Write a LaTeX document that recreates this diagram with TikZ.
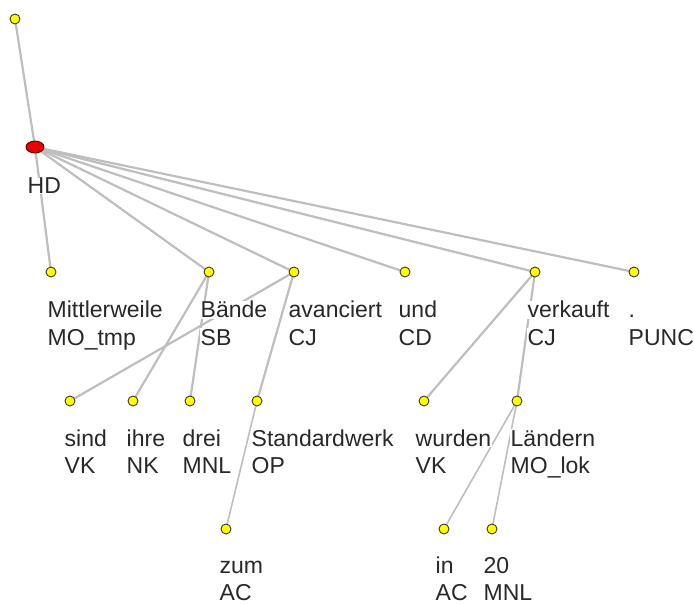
\documentclass[tikz,border=0pt]{standalone}
\usepackage{fontspec}
\setmainfont{Liberation Sans}
\usetikzlibrary{shapes.geometric}
\pgfdeclarelayer{edgelayer}
\pgfdeclarelayer{labellayer}
\pgfsetlayers{edgelayer,labellayer,main}
\definecolor{edgegray}{RGB}{190,190,190}
\definecolor{dotyellow}{RGB}{255,255,0}
\definecolor{dotrim}{RGB}{60,60,20}
\definecolor{headred}{RGB}{235,0,0}
\definecolor{txt}{RGB}{40,40,40}
\begin{document}
\begin{tikzpicture}[x=1pt,y=-1pt,
  dot/.style={circle,draw=dotrim,fill=dotyellow,line width=0.9pt,minimum size=10pt,inner sep=0pt},
  headdot/.style={ellipse,draw=black!60!red,fill=headred,line width=0.9pt,minimum width=18pt,minimum height=12pt,inner sep=0pt},
  edge/.style={draw=edgegray,line width=2.2pt},
  thinedge/.style={draw=edgegray,line width=1.6pt},
  lbl/.style={anchor=base west,fill=white,inner sep=0.5pt,text=txt,font=\fontsize{23}{28}\selectfont}]
\useasboundingbox (0,0) rectangle (694,604);
\newcommand{\wordtag}[5]{%
  \node[lbl] (#1w) at (#2,#3) {#4};
  \node[lbl] (#1t) at (#2,#3+27) {#5};}
% dots
\node[dot] (r) at (15,19) {};
\node[headdot] (h) at (35,147) {};
\node[dot] (n1) at (51,272) {};
\node[dot] (n2) at (209,272) {};
\node[dot] (n3) at (294,272) {};
\node[dot] (n4) at (405,272) {};
\node[dot] (n5) at (535,272) {};
\node[dot] (n6) at (634,272) {};
\node[dot] (m1) at (70,401) {};
\node[dot] (m2) at (133,401) {};
\node[dot] (m3) at (190,401) {};
\node[dot] (m4) at (257,401) {};
\node[dot] (m5) at (424,401) {};
\node[dot] (m6) at (517,401) {};
\node[dot] (k1) at (226,529) {};
\node[dot] (k2) at (444,529) {};
\node[dot] (k3) at (492,529) {};
% labels
\begin{pgfonlayer}{labellayer}
\node[lbl] (hd) at (27,194) {HD};
\wordtag{l1}{47}{318}{Mittlerweile}{MO\_tmp}
\wordtag{l2}{200}{318}{Bände}{SB}
\wordtag{l3}{288}{318}{avanciert}{CJ}
\wordtag{l4}{398}{318}{und}{CD}
\wordtag{l5}{527}{318}{verkauft}{CJ}
\wordtag{l6}{628}{318}{.}{PUNC}
\wordtag{p1}{64}{446}{sind}{VK}
\wordtag{p2}{126}{446}{ihre}{NK}
\wordtag{p3}{182}{446}{drei}{MNL}
\wordtag{p4}{251}{446}{Standardwerk}{OP}
\wordtag{p5}{415}{446}{wurden}{VK}
\wordtag{p6}{510}{446}{Ländern}{MO\_lok}
\wordtag{q1}{219}{573}{zum}{AC}
\wordtag{q2}{435}{573}{in}{AC}
\wordtag{q3}{483}{573}{20}{MNL}
\end{pgfonlayer}
% edges
\begin{pgfonlayer}{edgelayer}
\draw[edge] (r.center) -- (h.center);
\foreach \t in {n1,n2,n3,n4,n5,n6} \draw[edge] (h.center) -- (\t.center);
\draw[edge] (n3.center) -- (m1.center);
\draw[edge] (n2.center) -- (m2.center);
\draw[edge] (n2.center) -- (m3.center);
\draw[edge] (n3.center) -- (m4.center);
\draw[thinedge] (m4.center) -- (k1.center);
\draw[edge] (n5.center) -- (m5.center);
\draw[edge] (n5.center) -- (m6.center);
\draw[thinedge] (m6.center) -- (k2.center);
\draw[thinedge] (m6.center) -- (k3.center);
\end{pgfonlayer}
\end{tikzpicture}
\end{document}
